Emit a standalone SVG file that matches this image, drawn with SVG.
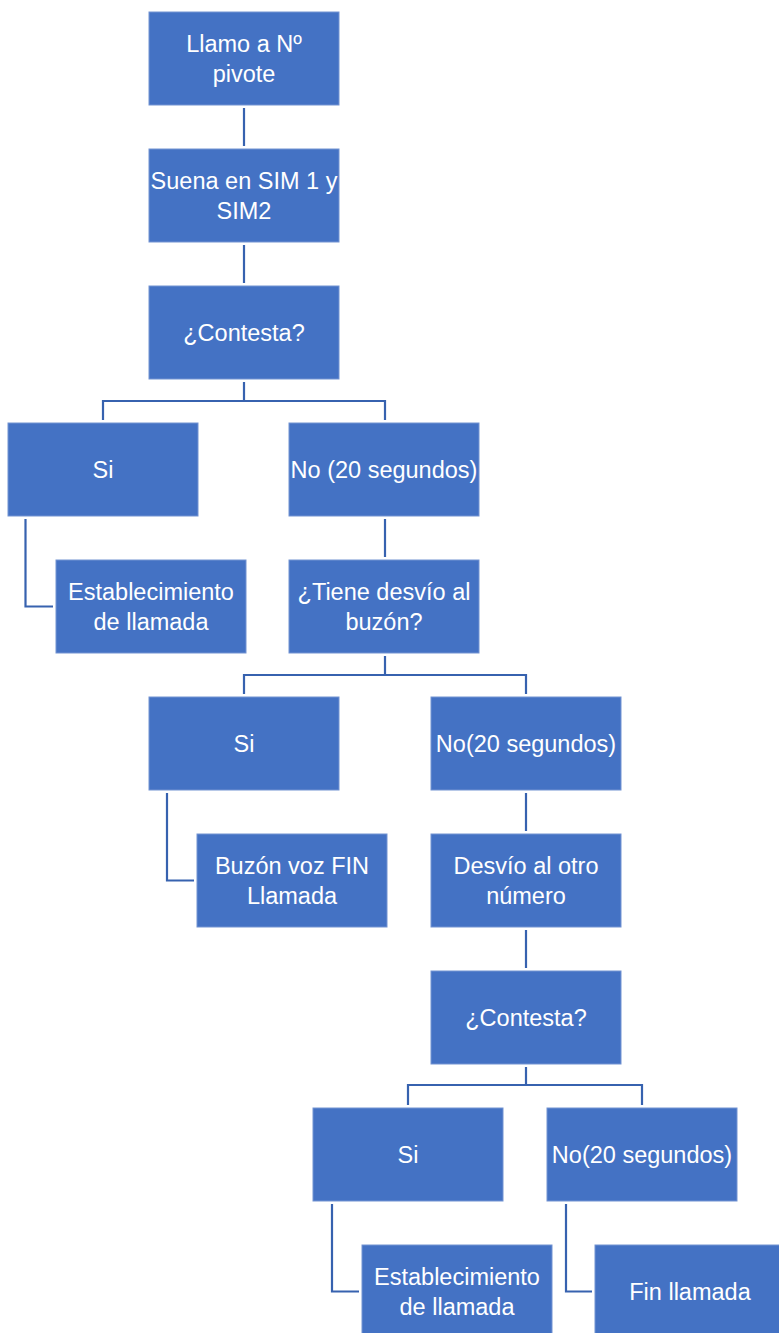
<svg xmlns="http://www.w3.org/2000/svg" width="779" height="1333" viewBox="0 0 779 1333">
<style>
.box{fill:#4472C4;stroke:#7393D2;stroke-width:1}
.t{font-family:"Liberation Sans",Arial,sans-serif;font-size:23.5px;fill:#ffffff;text-anchor:middle}
.c{fill:none;stroke:#3762AF;stroke-width:2.2}
</style>
<rect width="779" height="1333" fill="#ffffff"/>
<g id="connectors">
<path class="c" d="M244,108 V146"/>
<path class="c" d="M244,245 V283"/>
<path class="c" d="M244,382 V401 M103,420 V401 H385 V420"/>
<path class="c" d="M25.5,519 V606.5 H53"/>
<path class="c" d="M385,519 V557"/>
<path class="c" d="M385,656 V675 M244,694 V675 H526 V694"/>
<path class="c" d="M167,793 V880.5 H194"/>
<path class="c" d="M526,793 V831"/>
<path class="c" d="M526,930 V968"/>
<path class="c" d="M526,1067 V1085 M408,1105 V1085 H642 V1105"/>
<path class="c" d="M332,1204 V1291.5 H359"/>
<path class="c" d="M566,1204 V1291.5 H592"/>
</g>
<g id="n1"><rect class="box" x="149" y="12" width="190" height="93"/><text class="t" x="244" y="52">Llamo a Nº</text><text class="t" x="244" y="82">pivote</text></g>
<g id="n2"><rect class="box" x="149" y="149" width="190" height="93"/><text class="t" x="244" y="189">Suena en SIM 1 y</text><text class="t" x="244" y="219">SIM2</text></g>
<g id="n3"><rect class="box" x="149" y="286" width="190" height="93"/><text class="t" x="244" y="341">¿Contesta?</text></g>
<g id="n4"><rect class="box" x="8" y="423" width="190" height="93"/><text class="t" x="103" y="478">Si</text></g>
<g id="n5"><rect class="box" x="289" y="423" width="190" height="93"/><text class="t" x="384" y="478">No (20 segundos)</text></g>
<g id="n6"><rect class="box" x="56" y="560" width="190" height="93"/><text class="t" x="151" y="600">Establecimiento</text><text class="t" x="151" y="630">de llamada</text></g>
<g id="n7"><rect class="box" x="289" y="560" width="190" height="93"/><text class="t" x="384" y="600">¿Tiene desvío al</text><text class="t" x="384" y="630">buzón?</text></g>
<g id="n8"><rect class="box" x="149" y="697" width="190" height="93"/><text class="t" x="244" y="752">Si</text></g>
<g id="n9"><rect class="box" x="431" y="697" width="190" height="93"/><text class="t" x="526" y="752">No(20 segundos)</text></g>
<g id="n10"><rect class="box" x="197" y="834" width="190" height="93"/><text class="t" x="292" y="874">Buzón voz FIN</text><text class="t" x="292" y="904">Llamada</text></g>
<g id="n11"><rect class="box" x="431" y="834" width="190" height="93"/><text class="t" x="526" y="874">Desvío al otro</text><text class="t" x="526" y="904">número</text></g>
<g id="n12"><rect class="box" x="431" y="971" width="190" height="93"/><text class="t" x="526" y="1026">¿Contesta?</text></g>
<g id="n13"><rect class="box" x="313" y="1108" width="190" height="93"/><text class="t" x="408" y="1163">Si</text></g>
<g id="n14"><rect class="box" x="547" y="1108" width="190" height="93"/><text class="t" x="642" y="1163">No(20 segundos)</text></g>
<g id="n15"><rect class="box" x="362" y="1245" width="190" height="93"/><text class="t" x="457" y="1285">Establecimiento</text><text class="t" x="457" y="1315">de llamada</text></g>
<g id="n16"><rect class="box" x="595" y="1245" width="190" height="93"/><text class="t" x="690" y="1300">Fin llamada</text></g>
</svg>
